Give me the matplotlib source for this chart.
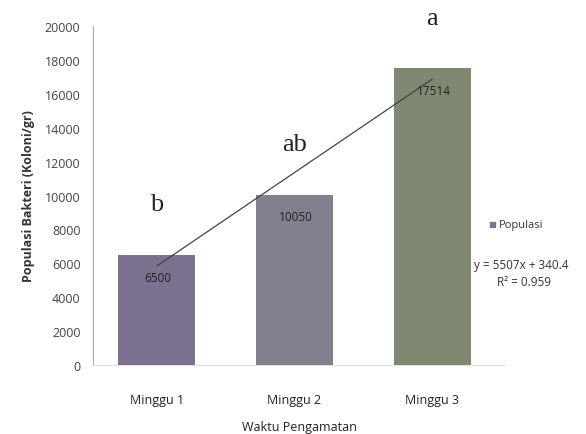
import matplotlib
matplotlib.use("Agg")
import matplotlib.pyplot as plt

categories = ["Minggu 1", "Minggu 2", "Minggu 3"]
populasi = [6500, 10050, 17514]
value_labels = ["6500", "10050", "17514"]
letters = ["b", "ab", "a"]
slope = 5507
intercept = 340.4
r2 = 0.959
yticks = [0, 2000, 4000, 6000, 8000, 10000, 12000, 14000, 16000, 18000, 20000]
bar_colors = ["#7c7290", "#837f8e", "#7f8871"]

plt.rcParams['font.family'] = ['Open Sans', 'DejaVu Sans']

fig = plt.figure(figsize=(5.86, 4.35), dpi=100)
ax = fig.add_axes([93/586, 1-366/435, 412/586, 339/435])

x = list(range(len(categories)))
bars = ax.bar(x, populasi, width=0.56, color=bar_colors, edgecolor="none")

trend_y = [slope*(i+1) + intercept for i in x]
ax.plot(x, trend_y, color="#444444", lw=0.9)

for xi, v, lab, let in zip(x, populasi, value_labels, letters):
    ax.annotate(lab, (xi, v), xytext=(1, -16), textcoords="offset points",
                ha="center", va="center", fontsize=8.5, color="#222222")
    ax.annotate(let, (xi, v), xytext=(0, 32), textcoords="offset points",
                ha="center", va="baseline", fontsize=19,
                family=["Liberation Serif", "DejaVu Serif"], color="#222222")

ax.set_xlim(-0.465, 2.53)
ax.set_ylim(0, 20000)
ax.set_yticks(yticks)
ax.set_yticklabels([str(t) for t in yticks], fontsize=9, color="#444444")
ax.set_xticks(x)
ax.set_xticklabels(categories, fontsize=9, color="#222222")
ax.tick_params(axis="y", length=0, pad=9)
ax.tick_params(axis="x", length=0, pad=20)
for s in ["top", "right"]:
    ax.spines[s].set_visible(False)
ax.spines["left"].set_color("#aaaaaa")
ax.spines["left"].set_linewidth(0.8)
ax.spines["bottom"].set_color("#dddddd")
ax.spines["bottom"].set_linewidth(0.6)
ax.set_ylabel("Populasi Bakteri (Koloni/gr)", fontsize=9, fontweight="bold",
              color="#333333", labelpad=7)
ax.set_xlabel("Waktu Pengamatan", fontsize=9, color="#222222", labelpad=10)

fig.text(488/586, 1-226/435, "\u25A0", fontsize=6, color="#7c7290", va="center")
fig.text(499/586, 1-226/435, "Populasi", fontsize=8, color="#333333", va="center")
fig.text(521/586, 1-265/435, f"y = {slope}x + {intercept}", fontsize=8.5,
         color="#333333", ha="center", va="center")
fig.text(524/586, 1-283/435, f"R\u00b2 = {r2}", fontsize=8.5,
         color="#333333", ha="center", va="center")

fig.savefig("out.png", dpi=100)
